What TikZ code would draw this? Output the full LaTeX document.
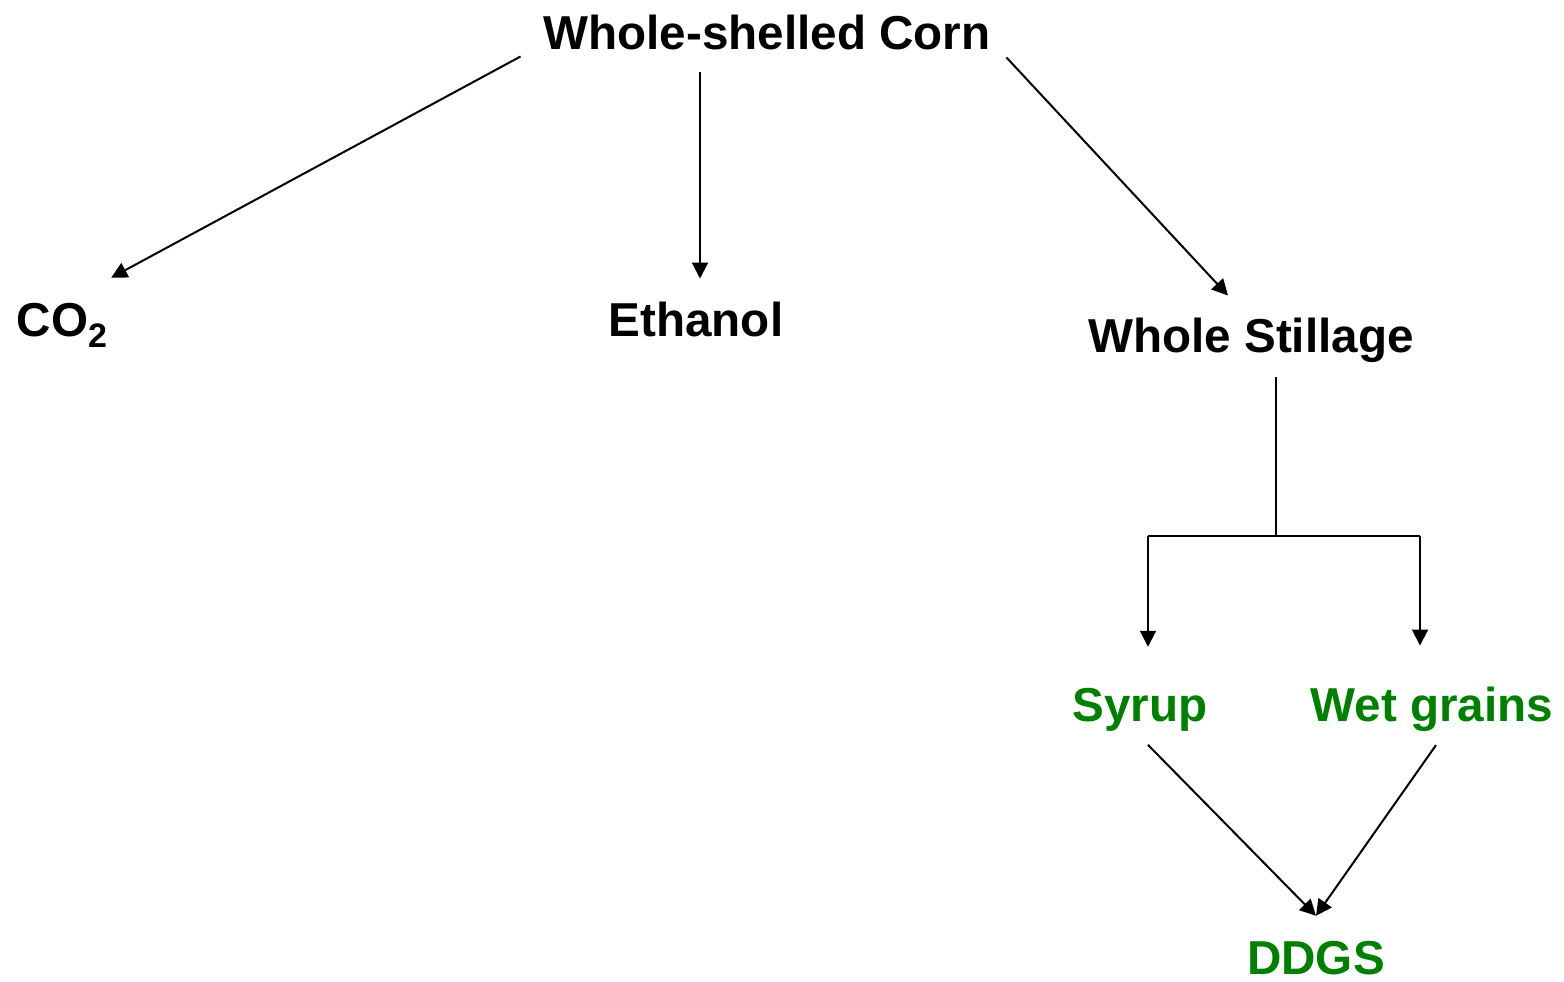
\documentclass[tikz,border=0pt]{standalone}
\usepackage{fontspec}
\setmainfont{Liberation Sans}
\usetikzlibrary{arrows.meta,positioning}
\definecolor{prodgreen}{RGB}{0,128,0}
\tikzset{>={Triangle[length=8pt,width=8pt]}}
\tikzset{stage/.style={inner sep=0pt,anchor=base,font=\fontsize{23.8}{28}\selectfont\bfseries}}
\tikzset{product/.style={stage,text=prodgreen}}

\begin{document}
\begin{tikzpicture}[x=0.5pt,y=-0.5pt,line width=1pt]
    \useasboundingbox (0,0) rectangle (1564,981);
    % stages
    \node[stage] (corn)     at (767,49)   {Whole-shelled Corn};
    \node[stage] (co2)      at (62,336)   {CO\raisebox{-0.25em}{\fontsize{17}{20}\selectfont 2}};
    \node[stage] (ethanol)  at (696,336)  {Ethanol};
    \node[stage] (stillage) at (1251,352) {Whole Stillage};
    % products
    \node[product] (syrup)  at (1140,721) {Syrup};
    \node[product] (wetgr)  at (1432,721) {Wet grains};
    \node[product] (ddgs)   at (1316,974) {DDGS};
    % split points
    \coordinate (ethtop) at ([xshift=2pt,yshift=11pt]ethanol.north);
    \coordinate (split) at (1276,536);
    \coordinate (splitl) at (1148,536);
    \coordinate (splitr) at (1420,536);
    \coordinate (meet) at ([yshift=12pt]ddgs.north);
    \path[->]
        ([xshift=-11pt,yshift=-3pt]corn.south west) edge ([xshift=1.5pt,yshift=12pt]co2.north east)
        (corn.south -| ethtop) edge [shorten <=11pt] (ethtop)
        ([xshift=7.5pt,yshift=-3.5pt]corn.south east) edge ([xshift=-11.5pt,yshift=10.5pt]stillage.north);
    \draw (stillage.south -| split) [shorten <=7pt] -- (split);
    \draw (splitl) -- (splitr);
    \path[->]
        (splitl) edge [shorten >=20pt] (splitl |- syrup.north)
        (splitr) edge [shorten >=20pt] (splitr |- wetgr.north)
        ([xshift=4pt,yshift=-6.5pt]syrup.south) edge (meet)
        ([xshift=2pt,yshift=-6.5pt]wetgr.south) edge (meet);
\end{tikzpicture}
\end{document}
